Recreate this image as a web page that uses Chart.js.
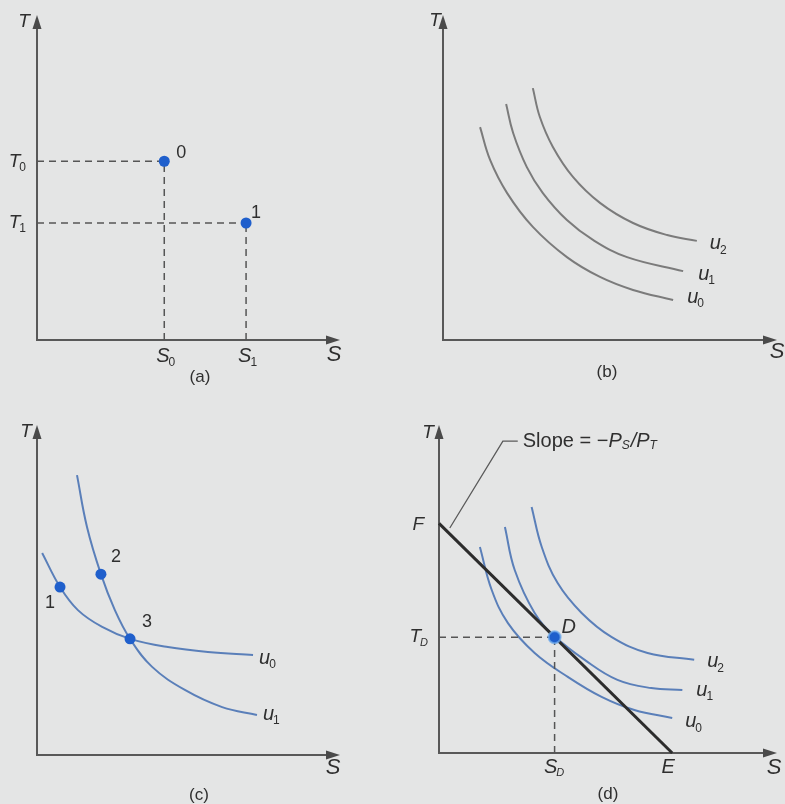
<!DOCTYPE html>
<html><head><meta charset="utf-8">
<script src="https://cdn.jsdelivr.net/npm/chart.js@4.4.0/dist/chart.umd.min.js"></script>
<style>
html,body{margin:0;padding:0;background:#e4e5e5;}
#wrap{position:relative;width:785px;height:804px;overflow:hidden;background:#e4e5e5;}
canvas{position:absolute;display:block;}
</style></head><body>
<div id="wrap">
<canvas id="ca" width="392" height="400" style="left:0px;top:0px;width:392px;height:400px"></canvas>
<canvas id="cb" width="393" height="400" style="left:392px;top:0px;width:393px;height:400px"></canvas>
<canvas id="cc" width="392" height="404" style="left:0px;top:400px;width:392px;height:404px"></canvas>
<canvas id="cd" width="393" height="404" style="left:392px;top:400px;width:393px;height:404px"></canvas>
</div>
<script>
// ---------- DATA (axis units 0..10) ----------
// Panel (a): two bundles
const aS = [4.2, 6.9];            // S0, S1
const aT = [5.5, 3.6];            // T0, T1
const aPointLabels = ['0', '1'];
const aSubs = ['0', '1'];

// Panel (b): indifference curves
const b_u0_x = [1.11, 1.41, 1.92, 2.69, 3.71, 4.70, 5.69, 6.89];
const b_u0_y = [6.55, 5.54, 4.52, 3.48, 2.55, 1.94, 1.54, 1.23];
const b_u1_x = [1.89, 2.10, 2.51, 2.99, 3.71, 4.49, 5.51, 7.19];
const b_u1_y = [7.26, 6.37, 5.32, 4.52, 3.69, 3.08, 2.55, 2.12];
const b_u2_x = [2.69, 2.90, 3.29, 3.89, 4.70, 5.69, 6.71, 7.60];
const b_u2_y = [7.75, 6.86, 5.94, 5.02, 4.22, 3.60, 3.23, 3.05];

// Panel (c): crossing curves
const c_u0_x = [0.17, 0.76, 1.35, 2.15, 3.07, 4.32, 5.64, 7.13];
const c_u0_y = [6.12, 5.09, 4.39, 3.88, 3.52, 3.27, 3.12, 3.03];
const c_u1_x = [1.32, 1.65, 2.11, 2.57, 3.07, 3.80, 4.88, 6.11, 7.26];
const c_u1_y = [8.48, 6.91, 5.48, 4.39, 3.52, 2.67, 1.97, 1.45, 1.21];
const c_pts_x = [0.76, 2.11, 3.07];
const c_pts_y = [5.09, 5.48, 3.52];
const c_pointLabels = ['1', '2', '3'];

// Panel (d): budget line and optimum
const d_F = 7.0;   // T intercept
const d_E = 6.9;   // S intercept
const d_D = [3.42, 3.53]; // S_D, T_D
const d_u0_x = [1.21, 1.56, 2.04, 2.83, 3.81, 4.81, 5.78, 6.90];
const d_u0_y = [6.28, 4.97, 3.96, 3.05, 2.32, 1.71, 1.31, 1.07];
const d_u1_x = [1.95, 2.24, 2.83, 3.42, 4.31, 5.28, 6.28, 7.20];
const d_u1_y = [6.89, 5.58, 4.27, 3.56, 2.84, 2.23, 1.98, 1.92];
const d_u2_x = [2.74, 3.04, 3.51, 4.22, 5.10, 6.17, 7.55];
const d_u2_y = [7.50, 6.28, 5.18, 4.27, 3.54, 3.05, 2.84];
const curveNames = ['u', 'u', 'u'];
const curveSubs = ['0', '1', '2'];

// ---------- STYLE ----------
const FONT = '"Liberation Sans", Arial, Helvetica, sans-serif';
const TXT = '#2f2f2f';
const AXIS = '#585858';
const GRAYCURVE = '#7b7b7b';
const BLUECURVE = '#5a7fb9';
const DOT = '#1f5fcc';
const DASH = '#555555';

function zip(xs, ys) { return xs.map((x, i) => ({x: x, y: ys[i]})); }

function label(ctx, main, sub, x, y, opt) {
  opt = opt || {};
  const size = opt.size || 19;
  const italic = opt.italic !== false;
  const align = opt.align || 'center';
  const subSize = opt.subSize || 12;
  ctx.save();
  ctx.fillStyle = TXT;
  ctx.textBaseline = 'middle';
  ctx.textAlign = 'left';
  const f1 = (italic ? 'italic ' : '') + size + 'px ' + FONT;
  const f2 = (opt.subItalic ? 'italic ' : '') + subSize + 'px ' + FONT;
  ctx.font = f1;
  const w1 = ctx.measureText(main).width;
  let w2 = 0;
  if (sub) { ctx.font = f2; w2 = ctx.measureText(sub).width; }
  const total = w1 + w2;
  const x0 = align === 'center' ? x - total / 2 : (align === 'right' ? x - total : x);
  ctx.font = f1;
  ctx.fillText(main, x0, y);
  if (sub) { ctx.font = f2; ctx.fillText(sub, x0 + w1 - 1, y + size * 0.32); }
  ctx.restore();
}

function P(c, x, y) { return {X: c.scales.x.getPixelForValue(x), Y: c.scales.y.getPixelForValue(y)}; }

function drawAxes(c, cfg) {
  const ctx = c.ctx, a = c.chartArea;
  ctx.save();
  ctx.strokeStyle = AXIS; ctx.lineWidth = 2;
  ctx.beginPath();
  ctx.moveTo(a.left, a.top + 8);
  ctx.lineTo(a.left, a.bottom);
  ctx.lineTo(a.right - 8, a.bottom);
  ctx.stroke();
  ctx.fillStyle = '#4a4a4a';
  ctx.beginPath();
  ctx.moveTo(a.left, a.top); ctx.lineTo(a.left - 4.5, a.top + 14); ctx.lineTo(a.left + 4.5, a.top + 14);
  ctx.closePath(); ctx.fill();
  ctx.beginPath();
  ctx.moveTo(a.right, a.bottom); ctx.lineTo(a.right - 14, a.bottom - 4.5); ctx.lineTo(a.right - 14, a.bottom + 4.5);
  ctx.closePath(); ctx.fill();
  ctx.restore();
  label(ctx, 'T', null, a.left + cfg.tOff[0], a.top + cfg.tOff[1], {size: 19});
  label(ctx, 'S', null, a.right + cfg.sOff[0], a.bottom + cfg.sOff[1], {size: 22});
  label(ctx, cfg.caption, null, cfg.capPos[0], cfg.capPos[1], {italic: false, size: 17});
}

function panel(id, pad, datasets, cfg) {
  return new Chart(document.getElementById(id), {
    type: 'scatter',
    data: {datasets: datasets},
    options: {
      responsive: false, animation: false, devicePixelRatio: 1, events: [],
      layout: {padding: pad},
      plugins: {legend: {display: false}, tooltip: {enabled: false}},
      scales: {
        x: {type: 'linear', min: 0, max: 10, display: false},
        y: {type: 'linear', min: 0, max: 10, display: false}
      }
    },
    plugins: [{
      id: 'deco',
      beforeDatasetsDraw(c) { drawAxes(c, cfg); },
      afterDatasetsDraw(c) { if (cfg.labels) cfg.labels(c); }
    }]
  });
}

function curve(pts, color, w) {
  return {data: pts, showLine: true, pointRadius: 0, borderColor: color, borderWidth: w || 2,
          tension: 0.4, clip: false, fill: false};
}
function dashed(pts) {
  return {data: pts, showLine: true, pointRadius: 0, borderColor: DASH, borderWidth: 1.5,
          borderDash: [7, 5], clip: false, fill: false, tension: 0};
}
function dots(pts, r, border) {
  return {data: pts, showLine: false, pointRadius: r, pointBackgroundColor: DOT,
          pointBorderColor: border || DOT, pointBorderWidth: border ? 2 : 0, clip: false};
}

// ---------- PANEL A ----------
(function () {
  const ds = [dots(zip(aS, aT), 5.5)];
  aS.forEach((s, i) => {
    ds.push(dashed([{x: 0, y: aT[i]}, {x: s, y: aT[i]}]));
    ds.push(dashed([{x: s, y: 0}, {x: s, y: aT[i]}]));
  });
  panel('ca', {left: 37, right: 52, top: 15, bottom: 60}, ds, {
    tOff: [-13, 7], sOff: [-6, 15], caption: '(a)', capPos: [200, 377],
    labels(c) {
      const ctx = c.ctx, a = c.chartArea;
      const offs = [[17, -8], [10, -10]];
      aS.forEach((s, i) => {
        const p = P(c, s, aT[i]);
        label(ctx, aPointLabels[i], null, p.X + offs[i][0], p.Y + offs[i][1], {italic: false, size: 18});
        label(ctx, 'T', aSubs[i], a.left - 10, p.Y, {align: 'right', size: 19});
        label(ctx, 'S', aSubs[i], p.X + 2, a.bottom + 16, {size: 20});
      });
    }
  });
})();

// ---------- PANEL B ----------
(function () {
  const curves = [zip(b_u0_x, b_u0_y), zip(b_u1_x, b_u1_y), zip(b_u2_x, b_u2_y)];
  const ds = curves.map(p => curve(p, GRAYCURVE, 2));
  const offs = [[14, -3], [15, 3], [13, 3]];
  panel('cb', {left: 51, right: 8, top: 15, bottom: 60}, ds, {
    tOff: [-8, 6], sOff: [0, 12], caption: '(b)', capPos: [215, 372],
    labels(c) {
      curves.forEach((pts, i) => {
        const last = pts[pts.length - 1];
        const p = P(c, last.x, last.y);
        label(c.ctx, curveNames[i], curveSubs[i], p.X + offs[i][0], p.Y + offs[i][1], {align: 'left', size: 20});
      });
    }
  });
})();

// ---------- PANEL C ----------
(function () {
  const u0 = zip(c_u0_x, c_u0_y), u1 = zip(c_u1_x, c_u1_y);
  const ds = [dots(zip(c_pts_x, c_pts_y), 5.5), curve(u0, BLUECURVE, 2), curve(u1, BLUECURVE, 2)];
  const offs = [[-10, 16], [15, -17], [17, -17]];
  panel('cc', {left: 37, right: 52, top: 25, bottom: 49}, ds, {
    tOff: [-11, 7], sOff: [-7, 13], caption: '(c)', capPos: [199, 395],
    labels(c) {
      c_pts_x.forEach((x, i) => {
        const p = P(c, x, c_pts_y[i]);
        label(c.ctx, c_pointLabels[i], null, p.X + offs[i][0], p.Y + offs[i][1], {italic: false, size: 18});
      });
      [u0, u1].forEach((pts, i) => {
        const last = pts[pts.length - 1];
        const p = P(c, last.x, last.y);
        label(c.ctx, curveNames[i], curveSubs[i], p.X + 6, p.Y + (i === 0 ? 3 : -1), {align: 'left', size: 20});
      });
    }
  });
})();

// ---------- PANEL D ----------
(function () {
  const curves = [zip(d_u0_x, d_u0_y), zip(d_u1_x, d_u1_y), zip(d_u2_x, d_u2_y)];
  const ds = [
    dots([{x: d_D[0], y: d_D[1]}], 6, 'rgba(110,170,235,0.75)'),
    {data: [{x: 0, y: d_F}, {x: d_E, y: 0}], showLine: true, pointRadius: 0, borderColor: '#2c2c2c',
     borderWidth: 3, clip: false, tension: 0},
    dashed([{x: 0, y: d_D[1]}, {x: d_D[0], y: d_D[1]}]),
    dashed([{x: d_D[0], y: 0}, {x: d_D[0], y: d_D[1]}])
  ].concat(curves.map(p => curve(p, BLUECURVE, 2)));
  const offs = [[13, 4], [14, 0], [13, 2]];
  panel('cd', {left: 47, right: 7, top: 25, bottom: 51}, ds, {
    tOff: [-11, 8], sOff: [-3, 15], caption: '(d)', capPos: [216, 394],
    labels(c) {
      const ctx = c.ctx, a = c.chartArea;
      curves.forEach((pts, i) => {
        const last = pts[pts.length - 1];
        const p = P(c, last.x, last.y);
        label(ctx, curveNames[i], curveSubs[i], p.X + offs[i][0], p.Y + offs[i][1], {align: 'left', size: 20});
      });
      const f = P(c, 0, d_F), e = P(c, d_E, 0), d = P(c, d_D[0], d_D[1]);
      label(ctx, 'F', null, a.left - 15, f.Y + 1, {align: 'right', size: 19});
      label(ctx, 'E', null, e.X - 4, a.bottom + 14, {size: 20});
      label(ctx, 'T', 'D', a.left - 10, d.Y, {align: 'right', size: 19, subItalic: true, subSize: 11});
      label(ctx, 'S', 'D', d.X, a.bottom + 14, {size: 20, subItalic: true, subSize: 11});
      label(ctx, 'D', null, d.X + 7, d.Y - 10, {align: 'left', size: 20});
      // leader line for slope annotation
      const l1 = P(c, 0.32, 6.86), l2 = P(c, 1.89, 9.51), l3 = P(c, 2.33, 9.51);
      ctx.save();
      ctx.strokeStyle = '#5a5a5a'; ctx.lineWidth = 1.3;
      ctx.beginPath(); ctx.moveTo(l1.X, l1.Y); ctx.lineTo(l2.X, l2.Y); ctx.lineTo(l3.X, l3.Y); ctx.stroke();
      ctx.restore();
      // "Slope = -PS/PT"
      let x = l3.X + 5; const y = l3.Y;
      ctx.save();
      ctx.fillStyle = TXT; ctx.textBaseline = 'middle'; ctx.textAlign = 'left';
      const parts = [
        ['Slope = \u2212', '20px', 0], ['P', 'italic 20px', 0], ['S', 'italic 12px', 5],
        ['/', 'italic 20px', 0], ['P', 'italic 20px', 0], ['T', 'italic 12px', 5]
      ];
      parts.forEach(pt => {
        ctx.font = pt[1] + ' ' + FONT;
        ctx.fillText(pt[0], x, y + pt[2]);
        x += ctx.measureText(pt[0]).width + (pt[2] ? 1 : 0);
      });
      ctx.restore();
    }
  });
})();
</script>
</body></html>
